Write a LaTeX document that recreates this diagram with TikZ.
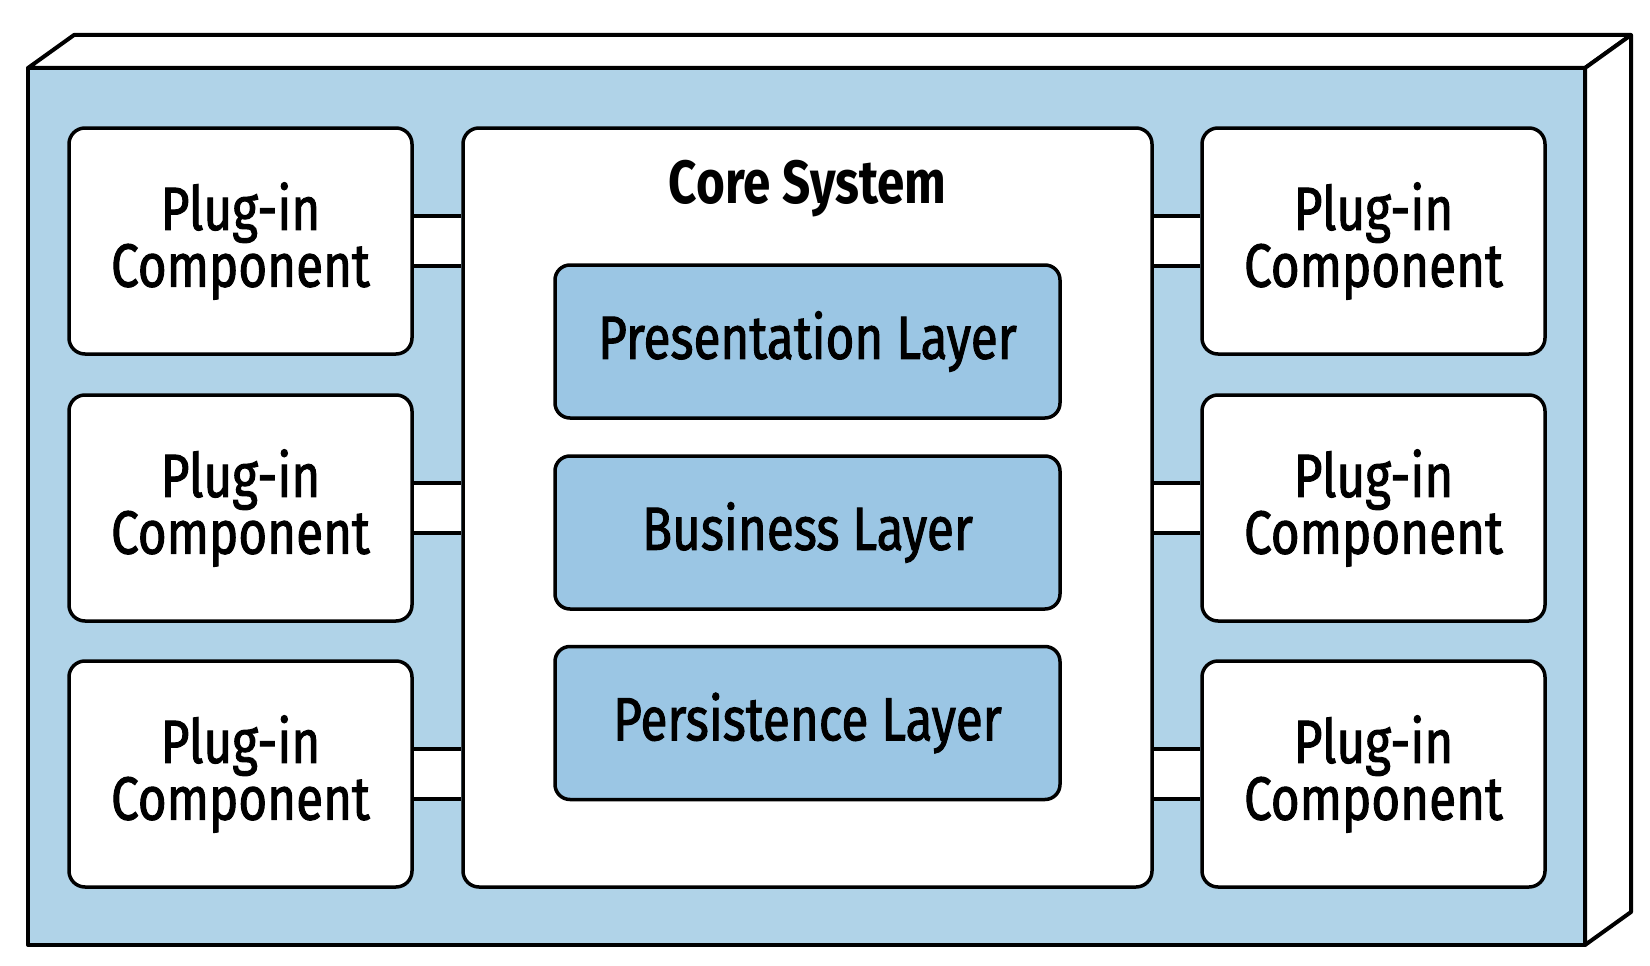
\documentclass[tikz,border=0pt]{standalone}
\usepackage{fontspec}
\setmainfont{Fira Sans}[FakeStretch=0.81, FakeBold=1.6, BoldFeatures={FakeBold=0}]
\usetikzlibrary{calc}
\definecolor{outerblue}{RGB}{176,211,232}
\definecolor{layerblue}{RGB}{155,198,228}
\tikzset{
  box/.style={draw=black, line width=3.5pt, rounded corners=16pt, fill=white},
  plugin/.style={box, minimum width=343pt, minimum height=226pt, align=center,
     font=\fontsize{61}{61}\selectfont, inner sep=0pt},
  layer/.style={draw=black, line width=3.5pt, rounded corners=15pt, fill=layerblue,
     minimum width=505pt, minimum height=153pt, font=\fontsize{61}{61}\selectfont, inner sep=0pt},
  link/.style={draw=black, line width=3.5pt},
  face/.style={draw=black, line width=4pt, line join=round, fill=white},
}
\newcommand{\lowtext}[1]{\raisebox{-3pt}{#1}}
\begin{document}
\begin{tikzpicture}[x=1pt,y=-1pt]
\useasboundingbox (0,0) rectangle (1650,966);
% 3D outer box
\draw[face] (28,68) -- (74,35) -- (1631,35) -- (1585,68) -- cycle;
\draw[face] (1585,68) -- (1631,35) -- (1631,912) -- (1585,945) -- cycle;
\draw[line width=4pt, fill=outerblue, line join=round] (28,68) rectangle (1585,945);
% core system
\node[box, minimum width=689pt, minimum height=759pt, inner sep=0pt] (core) at (807.5,507.5) {};
\node[font=\fontsize{61}{61}\selectfont\bfseries] (title) at (807.5,189) {Core System};
\node[layer] (pres) at (807.5,341.5) {\lowtext{Presentation Layer}};
\node[layer] (bus) at (807.5,532.5) {\lowtext{Business Layer}};
\node[layer] (pers) at (807.5,723) {\lowtext{Persistence Layer}};
% plugins
\foreach \n/\x/\y in {l1/240.5/241, l2/240.5/508, l3/240.5/774, r1/1373.5/241, r2/1373.5/508, r3/1373.5/774}{
  \node[plugin] (\n) at (\x,\y) {\lowtext{\shortstack{Plug-in\\[-2pt]Component}}};
}
% connectors
\foreach \p in {l1,l2,l3}{
  \fill[white] ($(\p.east)+(0,-25)$) rectangle ($(core.west |- \p.east)+(0,25)$);
  \draw[link] ($(\p.east)+(0,-25)$) -- ($(core.west |- \p.east)+(0,-25)$);
  \draw[link] ($(\p.east)+(0,25)$) -- ($(core.west |- \p.east)+(0,25)$);
}
\foreach \p in {r1,r2,r3}{
  \fill[white] ($(\p.west)+(0,-25)$) rectangle ($(core.east |- \p.west)+(0,25)$);
  \draw[link] ($(\p.west)+(0,-25)$) -- ($(core.east |- \p.west)+(0,-25)$);
  \draw[link] ($(\p.west)+(0,25)$) -- ($(core.east |- \p.west)+(0,25)$);
}
\end{tikzpicture}
\end{document}
